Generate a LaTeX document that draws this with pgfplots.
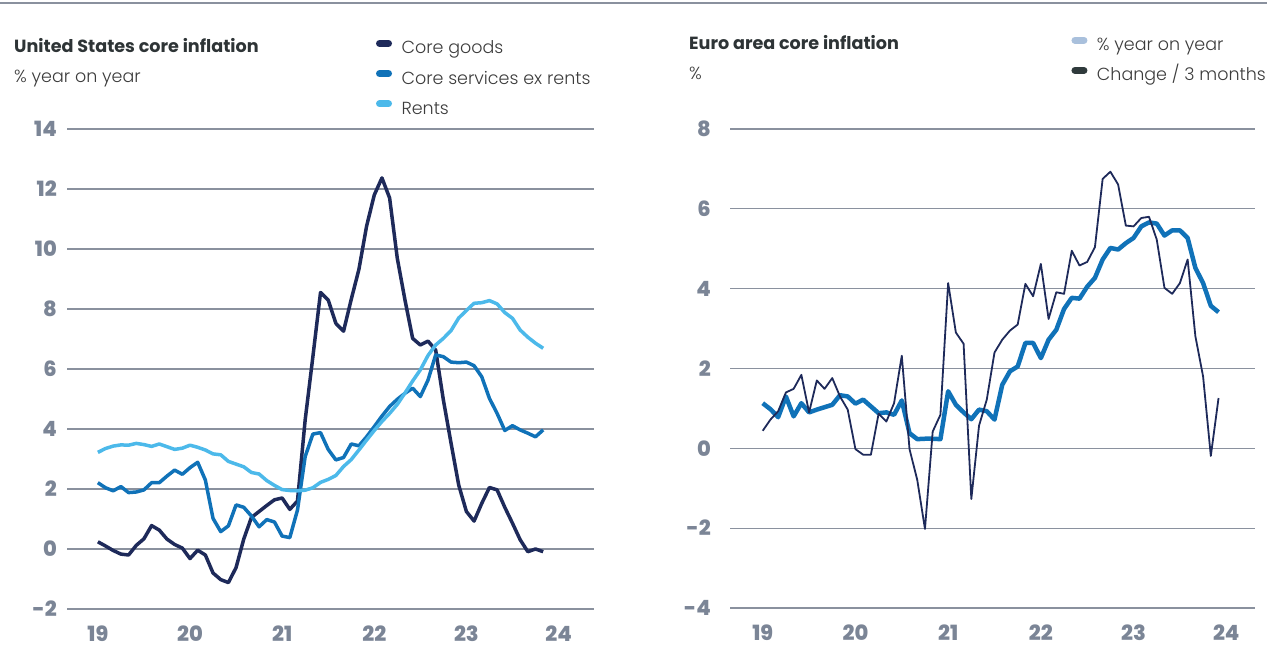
\documentclass[border=0pt]{standalone}
\usepackage{fontspec}
\setmainfont{Poppins}
\newfontfamily\poplight{Poppins Light}
\newfontfamily\popheavy{Poppins ExtraBold}
\usepackage{pgfplots}
\pgfplotsset{compat=1.18}
\usepackage{pgfplotstable}

\definecolor{navy}{HTML}{1E2A5A}
\definecolor{midblue}{HTML}{1072B8}
\definecolor{rentblue}{HTML}{4CB9EA}
\definecolor{paleblue}{HTML}{A9C0DC}
\definecolor{darkswatch}{HTML}{2F3A3C}
\definecolor{gridgray}{HTML}{8A919E}
\definecolor{tickgray}{HTML}{7B8596}
\definecolor{titlegray}{HTML}{2E3436}
\definecolor{textgray}{HTML}{3C3C3C}

% US: month index k (0 = Jan 2019), % y/y
\pgfplotstableread{
k goods services rents
0 0.24 2.21 3.22
1 0.10 2.04 3.35
2 -0.05 1.94 3.43
3 -0.17 2.08 3.47
4 -0.20 1.88 3.46
5 0.12 1.90 3.52
6 0.34 1.97 3.48
7 0.78 2.21 3.42
8 0.63 2.21 3.50
9 0.33 2.43 3.41
10 0.15 2.63 3.32
11 0.03 2.49 3.36
12 -0.32 2.71 3.46
13 -0.04 2.89 3.39
14 -0.20 2.30 3.30
15 -0.80 1.02 3.17
16 -1.02 0.58 3.14
17 -1.12 0.77 2.92
18 -0.62 1.47 2.83
19 0.33 1.39 2.74
20 1.05 1.10 2.55
21 1.25 0.74 2.50
22 1.45 0.98 2.28
23 1.64 0.90 2.12
24 1.70 0.43 1.98
25 1.32 0.38 1.95
26 1.60 1.30 1.94
27 4.30 3.08 1.96
28 6.40 3.83 2.04
29 8.55 3.88 2.22
30 8.30 3.32 2.32
31 7.52 2.97 2.45
32 7.26 3.05 2.75
33 8.32 3.50 2.98
34 9.32 3.44 3.30
35 10.76 3.74 3.63
36 11.80 4.08 3.95
37 12.37 4.43 4.25
38 11.70 4.75 4.52
39 9.69 4.99 4.82
40 8.30 5.19 5.20
41 7.02 5.36 5.60
42 6.80 5.08 5.97
43 6.93 5.63 6.45
44 6.63 6.47 6.80
45 4.97 6.41 7.02
46 3.53 6.23 7.28
47 2.13 6.21 7.70
48 1.25 6.23 7.95
49 0.93 6.11 8.19
50 1.52 5.74 8.21
51 2.05 5.02 8.28
52 1.97 4.52 8.17
53 1.39 3.95 7.88
54 0.86 4.11 7.69
55 0.31 3.97 7.30
56 -0.09 3.86 7.06
57 0.00 3.74 6.86
58 -0.09 3.97 6.69
}\ustable

% Euro area: month index k (0 = Jan 2019)
\pgfplotstableread{
k yoy chg
0 1.13 0.44
1 0.98 0.72
2 0.78 0.93
3 1.30 1.40
4 0.80 1.49
5 1.13 1.84
6 0.90 0.90
7 0.97 1.70
8 1.03 1.49
9 1.09 1.76
10 1.33 1.30
11 1.30 0.97
12 1.12 -0.02
13 1.22 -0.16
14 1.05 -0.16
15 0.88 0.87
16 0.90 0.67
17 0.84 1.13
18 1.20 2.32
19 0.38 -0.02
20 0.23 -0.79
21 0.24 -2.02
22 0.24 0.42
23 0.23 0.84
24 1.43 4.14
25 1.09 2.90
26 0.90 2.62
27 0.73 -1.27
28 0.97 0.57
29 0.93 1.22
30 0.72 2.40
31 1.59 2.72
32 1.93 2.95
33 2.05 3.10
34 2.64 4.12
35 2.64 3.81
36 2.26 4.62
37 2.72 3.24
38 2.97 3.91
39 3.49 3.87
40 3.77 4.95
41 3.75 4.58
42 4.05 4.67
43 4.27 5.04
44 4.73 6.75
45 5.02 6.93
46 4.98 6.61
47 5.14 5.58
48 5.27 5.56
49 5.56 5.77
50 5.66 5.80
51 5.63 5.23
52 5.33 4.02
53 5.46 3.87
54 5.46 4.14
55 5.27 4.73
56 4.52 2.81
57 4.14 1.80
58 3.57 -0.19
59 3.41 1.26
}\eatable

\pgfplotsset{
  panel/.style={
    scale only axis,
    axis line style={draw=none},
    major tick style={draw=none},
    ymajorgrids,
    grid style={color=gridgray, line width=1.3pt},
    xtick={19,20,...,24},
    /pgf/number format/assume math mode=true,
    tick label style={font=\popheavy\fontsize{21}{21}\selectfont, text=tickgray},
    xticklabel style={anchor=north, inner sep=0pt, yshift=-17pt},
    yticklabel style={anchor=east, inner sep=0pt},
    legend cell align=left,
    legend image code/.code={
      \path (0pt,0pt);
      \draw[##1, line width=7pt, line cap=round] (0pt,6pt) -- (9pt,6pt);},
    legend style={draw=none, fill=none, inner sep=0pt,
      font=\poplight\fontsize{17.5}{17.5}\selectfont, text=textgray,
      nodes={inner sep=0pt, text height=13pt, text depth=4pt},
      row sep=12.2pt, column sep=9.5pt, anchor=north west},
  },
}

\begin{document}
\begin{tikzpicture}
\useasboundingbox (0pt,0pt) rectangle (1267pt,647pt);
\draw[gridgray, line width=1.5pt] (0pt,644pt) -- (1267pt,644pt);

\node[anchor=base west, inner sep=0pt, font=\fontsize{17.6}{17.6}\selectfont\bfseries, text=titlegray]
  at (14pt,594pt) {United States core inflation};
\node[anchor=base west, inner sep=0pt, font=\poplight\fontsize{17.5}{17.5}\selectfont, text=textgray]
  at (14pt,564pt) {\% year on year};
\node[anchor=base west, inner sep=0pt, font=\fontsize{17.6}{17.6}\selectfont\bfseries, text=titlegray]
  at (689pt,597pt) {Euro area core inflation};
\node[anchor=base west, inner sep=0pt, font=\poplight\fontsize{17.5}{17.5}\selectfont, text=textgray]
  at (689pt,567pt) {\%};

\begin{axis}[panel,
  at={(67pt,38pt)}, anchor=south west,
  width=527pt, height=480pt,
  xmin=18.665, xmax=24.385, ymin=-2, ymax=14,
  ytick={-2,0,...,14},
  yticklabel style={xshift=-10pt},
  legend style={at={(axis description cs:0.586,1.186)}},
]
\addplot[navy, line width=3.5pt, line join=round] table[x expr=19+\thisrow{k}/12, y=goods] {\ustable};
\addlegendentry{Core goods}
\addplot[midblue, line width=3.5pt, line join=round] table[x expr=19+\thisrow{k}/12, y=services] {\ustable};
\addlegendentry{Core services ex rents}
\addplot[rentblue, line width=3.5pt, line join=round] table[x expr=19+\thisrow{k}/12, y=rents] {\ustable};
\addlegendentry{Rents}
\end{axis}

\begin{axis}[panel,
  at={(730pt,39pt)}, anchor=south west,
  width=525pt, height=479pt,
  xmin=18.647, xmax=24.31, ymin=-4, ymax=8,
  ytick={-4,-2,...,8},
  yticklabel style={xshift=-19pt},
  legend style={at={(axis description cs:0.65,1.193)}},
]
\addlegendimage{paleblue}
\addlegendentry{\% year on year}
\addlegendimage{darkswatch}
\addlegendentry{Change / 3 months}
\addplot[midblue, line width=4.5pt, line join=round, forget plot] table[x expr=19+\thisrow{k}/12, y=yoy] {\eatable};
\addplot[navy, line width=1.8pt, line join=round, forget plot] table[x expr=19+\thisrow{k}/12, y=chg] {\eatable};
\end{axis}
\end{tikzpicture}
\end{document}
